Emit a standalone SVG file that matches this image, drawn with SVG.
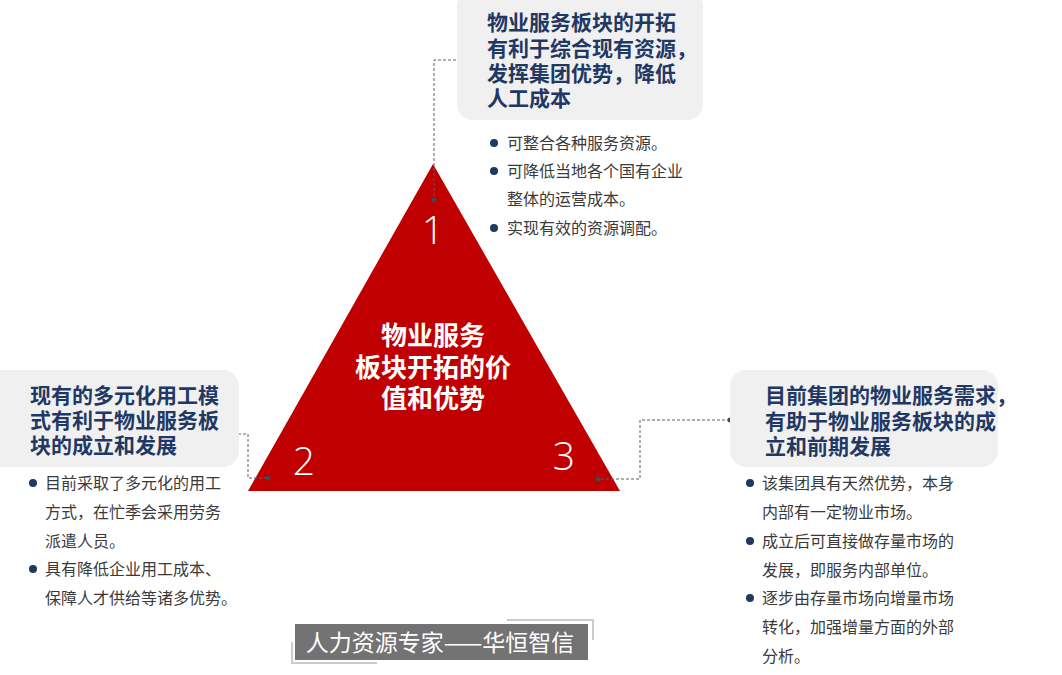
<svg xmlns="http://www.w3.org/2000/svg" width="1062" height="675" viewBox="0 0 1062 675">
<defs>
<style>
.box{fill:#f0f0f0}
.head{font-family:"Noto Sans CJK SC","Noto Sans",sans-serif;font-weight:700;font-size:21px;fill:#1f3864}
.bul{font-family:"Noto Sans CJK SC","Noto Sans",sans-serif;font-size:16px;fill:#3a3a3a}
.dot{fill:#1f3864}
.num{font-family:"Open Sans","Liberation Sans",sans-serif;font-weight:300;font-size:39px;fill:#fff;text-anchor:middle}
.ctr{font-family:"Noto Sans CJK SC","Noto Sans",sans-serif;font-weight:700;font-size:26px;fill:#fff;text-anchor:middle}
.con{fill:none;stroke:#5a6470;stroke-width:1;stroke-dasharray:3 2}
.cdot{fill:#3c4a5a}
</style>
</defs>
<rect width="1062" height="675" fill="#fff"/>
<g id="center">
<polygon points="433,164 248,491 620,491" fill="#c00000"/>
<text class="ctr" x="433" y="345">物业服务</text>
<text class="ctr" x="433" y="377">板块开拓的价</text>
<text class="ctr" x="433" y="408">值和优势</text>
<text class="num" x="433" y="244">1</text>
<text class="num" x="304" y="475">2</text>
<text class="num" x="564" y="470">3</text>
</g>
<g id="connectors">
<polyline class="con" points="476,60 434,60 434,200"/>
<circle class="cdot" cx="476" cy="60" r="2.5"/>
<circle class="cdot" cx="434" cy="200" r="2.5"/>
<polyline class="con" points="228,434 248,434 248,478 268,478"/>
<circle class="cdot" cx="228" cy="434" r="2.5"/>
<circle class="cdot" cx="268" cy="478" r="2.5"/>
<polyline class="con" points="730,420 640,420 640,479 598,479"/>
<circle class="cdot" cx="730" cy="420" r="2.5"/>
<circle class="cdot" cx="598" cy="479" r="2.5"/>
</g>
<g id="node1">
<rect class="box" x="457" y="-10" width="246" height="130" rx="16"/>
<text class="head" x="487" y="30">物业服务板块的开拓</text>
<text class="head" x="487" y="56">有利于综合现有资源，</text>
<text class="head" x="487" y="81">发挥集团优势，降低</text>
<text class="head" x="487" y="106">人工成本</text>
<circle class="dot" cx="494" cy="143" r="4"/>
<text class="bul" x="507" y="149">可整合各种服务资源。</text>
<circle class="dot" cx="494" cy="171" r="4"/>
<text class="bul" x="507" y="177">可降低当地各个国有企业</text>
<text class="bul" x="507" y="205">整体的运营成本。</text>
<circle class="dot" cx="494" cy="228" r="4"/>
<text class="bul" x="507" y="234">实现有效的资源调配。</text>
</g>
<g id="node2">
<rect class="box" x="-16" y="370" width="255" height="97" rx="16"/>
<text class="head" x="30" y="403">现有的多元化用工模</text>
<text class="head" x="30" y="428">式有利于物业服务板</text>
<text class="head" x="30" y="453">块的成立和发展</text>
<circle class="dot" cx="33" cy="483" r="4"/>
<text class="bul" x="45" y="489">目前采取了多元化的用工</text>
<text class="bul" x="45" y="518">方式，在忙季会采用劳务</text>
<text class="bul" x="45" y="547">派遣人员。</text>
<circle class="dot" cx="33" cy="569" r="4"/>
<text class="bul" x="45" y="575">具有降低企业用工成本、</text>
<text class="bul" x="45" y="604">保障人才供给等诸多优势。</text>
</g>
<g id="node3">
<rect class="box" x="730" y="370" width="268" height="97" rx="16"/>
<text class="head" x="765" y="403">目前集团的物业服务需求，</text>
<text class="head" x="765" y="429">有助于物业服务板块的成</text>
<text class="head" x="765" y="454">立和前期发展</text>
<circle class="dot" cx="750" cy="483" r="4"/>
<text class="bul" x="762" y="489">该集团具有天然优势，本身</text>
<text class="bul" x="762" y="518">内部有一定物业市场。</text>
<circle class="dot" cx="750" cy="541" r="4"/>
<text class="bul" x="762" y="547">成立后可直接做存量市场的</text>
<text class="bul" x="762" y="576">发展，即服务内部单位。</text>
<circle class="dot" cx="750" cy="598" r="4"/>
<text class="bul" x="762" y="604">逐步由存量市场向增量市场</text>
<text class="bul" x="762" y="633">转化，加强增量方面的外部</text>
<text class="bul" x="762" y="662">分析。</text>
</g>
<g id="logo">
<polyline points="507,620 593,620 593,640" fill="none" stroke="#ccc" stroke-width="2"/>
<polyline points="292,642 292,663 377,663" fill="none" stroke="#ccc" stroke-width="2"/>
<rect x="295" y="624" width="293" height="36" fill="#737373"/>
<text x="440" y="651" font-family="Noto Sans CJK SC,sans-serif" font-size="23" fill="#fff" text-anchor="middle">人力资源专家——华恒智信</text>
</g>
</svg>
